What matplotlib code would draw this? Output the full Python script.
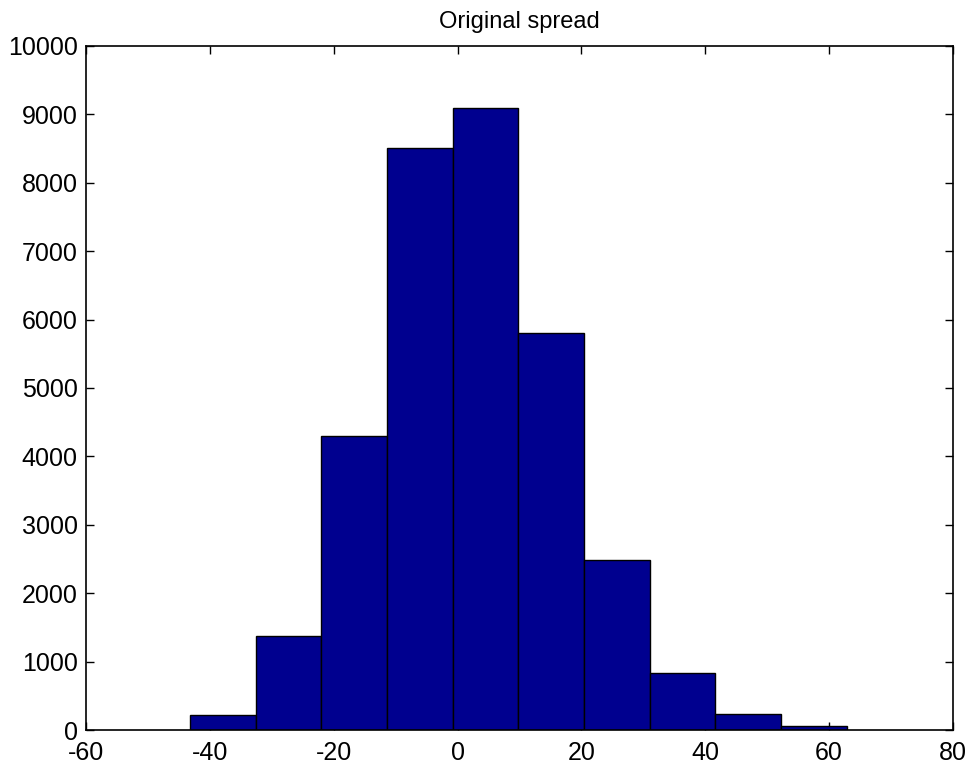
import matplotlib
matplotlib.use('Agg')
import matplotlib.pyplot as plt
import numpy as np

# histogram bins (10 bins, as MATLAB hist) and counts
edges = [-43.2, -32.6, -22.0, -11.4, -0.8, 9.8, 20.4, 31.0, 41.6, 52.2, 62.8]
counts = [225, 1370, 4300, 8510, 9090, 5800, 2480, 840, 240, 60]

xticks = [-60, -40, -20, 0, 20, 40, 60, 80]
yticks = list(range(0, 10001, 1000))

BAR = '#00008F'

plt.rcParams['font.family'] = ['Liberation Sans', 'DejaVu Sans']
plt.rcParams['axes.unicode_minus'] = False

fig = plt.figure(figsize=(9.70, 7.69), dpi=100)
ax = fig.add_axes([0.0887, 0.0507, 0.8938, 0.8895])

widths = np.diff(edges)
ax.bar(edges[:-1], counts, width=widths, align='edge',
       color=BAR, edgecolor='black', linewidth=1.0, zorder=2)

ax.set_xlim(-60, 80)
ax.set_ylim(0, 10000)
ax.set_xticks(xticks)
ax.set_yticks(yticks)
ax.tick_params(direction='in', top=True, right=True, length=6,
               width=1.0, labelsize=18)
ax.tick_params(axis='x', pad=8)
ax.tick_params(axis='y', pad=6)
for sp in ax.spines.values():
    sp.set_linewidth(1.2)

ax.set_title('Original spread', fontsize=17, pad=13)

fig.savefig('out.png', dpi=100)
